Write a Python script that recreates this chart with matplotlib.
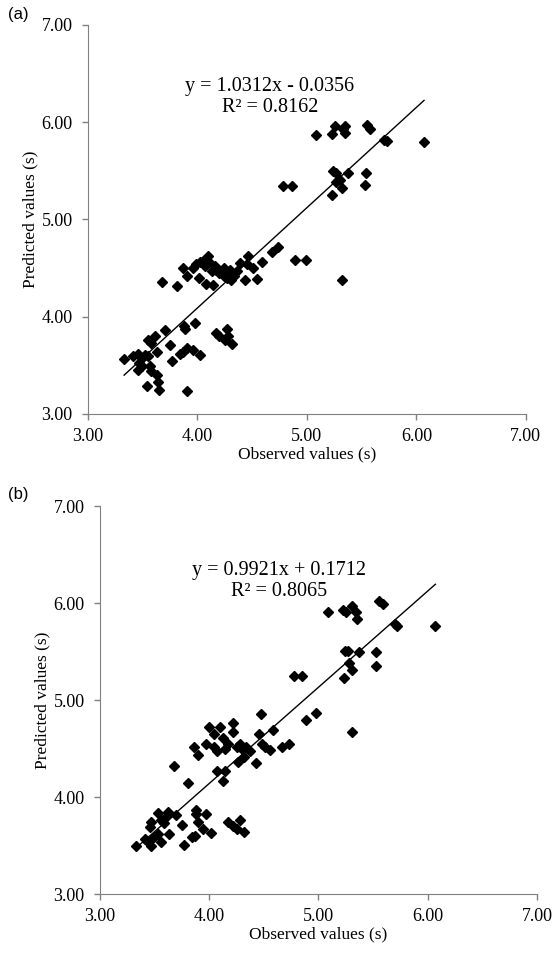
import numpy as np
import matplotlib.pyplot as plt

# panel (a) observed / predicted
obs_a = [4.10, 4.02, 3.99, 3.96, 4.07, 3.87, 3.90, 4.01, 3.68, 3.81, 4.08, 4.14,
         4.13, 4.17, 4.20, 4.24, 4.27, 4.30, 4.33, 4.36, 4.39, 4.46, 4.45, 4.51,
         4.43, 4.54, 4.59, 4.68, 4.74, 4.89, 4.99, 4.27, 4.31, 4.24, 4.16, 4.11, 4.05,
         3.33, 3.41, 3.46, 3.49, 3.52, 3.55, 3.47, 3.46, 3.49, 3.57, 3.58, 3.54,
         3.63, 3.64, 3.65, 3.55, 3.61, 3.70, 3.58, 3.75, 3.63, 3.84, 3.90, 3.87,
         3.96, 4.02, 3.77, 3.88, 3.89, 3.98, 4.17, 4.20, 4.27, 4.28, 4.25, 4.32, 3.90,
         5.08, 5.23, 5.26, 5.33, 5.35, 5.35, 5.55, 5.58, 5.70, 5.73, 6.07,
         5.24, 5.27, 5.38, 5.54, 5.30, 5.27, 5.32, 5.23, 5.53, 5.32, 4.78, 4.86]
pred_a = [4.62, 4.56, 4.54, 4.50, 4.52, 4.50, 4.42, 4.40, 4.36, 4.32, 4.34, 4.33,
          4.47, 4.48, 4.45, 4.50, 4.45, 4.48, 4.42, 4.47, 4.55, 4.62, 4.54, 4.50,
          4.38, 4.39, 4.56, 4.66, 4.72, 4.58, 4.58, 4.40, 4.38, 4.42, 4.52, 4.56, 4.57,
          3.56, 3.60, 3.62, 3.57, 3.61, 3.59, 3.52, 3.45, 3.49, 3.49, 3.44, 3.29,
          3.40, 3.33, 3.25, 3.76, 3.80, 3.86, 3.73, 3.71, 3.64, 3.62, 3.68, 3.64,
          3.66, 3.61, 3.54, 3.90, 3.87, 3.93, 3.83, 3.80, 3.87, 3.80, 3.76, 3.72, 3.23,
          5.87, 5.88, 5.96, 5.93, 5.96, 5.89, 5.97, 5.93, 5.82, 5.81, 5.80,
          5.50, 5.48, 5.48, 5.48, 5.40, 5.38, 5.32, 5.25, 5.35, 4.38, 5.34, 5.34]

# panel (b) observed / predicted
obs_b = [3.33, 3.41, 3.44, 3.47, 3.49, 3.53, 3.56, 3.46, 3.47, 3.53, 3.56, 3.61,
         3.62, 3.70, 3.59, 3.63, 3.75, 3.77, 3.84, 3.87, 3.88, 3.88, 3.90, 3.97,
         3.94, 4.02, 4.17, 4.22, 4.25, 4.28, 4.32, 3.81, 3.68, 3.86, 3.90, 3.97,
         4.00, 4.04, 4.10, 4.07, 4.04, 4.13, 4.17, 4.22, 4.22, 4.14, 4.25, 4.28,
         4.31, 4.34, 4.37, 4.32, 4.26, 4.07, 4.14, 4.13, 4.43, 4.48, 4.51, 4.56,
         4.46, 4.47, 4.58, 4.67, 4.73, 4.89, 4.98,
         5.09, 5.22, 5.25, 5.31, 5.34, 5.35, 5.55, 5.59, 5.70, 5.72, 6.07,
         5.24, 5.27, 5.37, 5.53, 5.28, 5.31, 5.23, 5.53, 4.78, 4.85, 5.31]
pred_b = [3.50, 3.57, 3.54, 3.50, 3.59, 3.62, 3.54, 3.69, 3.74, 3.83, 3.76, 3.80,
          3.85, 3.81, 3.73, 3.62, 3.71, 3.51, 3.59, 3.60, 3.87, 3.82, 3.74, 3.82,
          3.67, 3.63, 3.74, 3.70, 3.67, 3.76, 3.64, 4.14, 4.32, 4.52, 4.43, 4.55,
          4.72, 4.65, 4.72, 4.47, 4.52, 4.61, 4.55, 4.76, 4.67, 4.50, 4.52, 4.55,
          4.48, 4.52, 4.47, 4.41, 4.36, 4.27, 4.27, 4.17, 4.35, 4.55, 4.52, 4.48,
          4.65, 4.86, 4.69, 4.52, 4.55, 4.79, 4.87,
          5.91, 5.93, 5.91, 5.97, 5.91, 5.84, 6.02, 5.99, 5.78, 5.76, 5.76,
          5.51, 5.51, 5.50, 5.50, 5.38, 5.31, 5.23, 5.35, 5.25, 5.25, 4.67]

fits = [(1.0312, -0.0356, "y = 1.0312x - 0.0356", "R² = 0.8162"),
        (0.9921, 0.1712, "y = 0.9921x + 0.1712", "R² = 0.8065")]
ticks = [3.00, 4.00, 5.00, 6.00, 7.00]

serif = "Liberation Serif"
fig = plt.figure(figsize=(5.57, 9.58), dpi=100)
ax_a = fig.add_axes([0.158, 0.568, 0.786, 0.406])
ax_b = fig.add_axes([0.1795, 0.0668, 0.7846, 0.405])

panels = [(ax_a, obs_a, pred_a, fits[0], (4.66, 6.37, 6.15)),
          (ax_b, obs_b, pred_b, fits[1], (4.64, 6.34, 6.12))]

for ax, x, y, fit, tpos in panels:
    x = np.array(x)
    ax.plot(x, y, linestyle="none", marker="D", ms=5.5, color="black")
    xs = np.array([x.min(), x.max()])
    ax.plot(xs, fit[0] * xs + fit[1], color="black", lw=1)
    ax.set_xlim(3, 7)
    ax.set_ylim(3, 7)
    ax.set_xticks(ticks)
    ax.set_yticks(ticks)
    ax.set_xticklabels([f"{t:.2f}" for t in ticks], family=serif, fontsize=13)
    ax.set_yticklabels([f"{t:.2f}" for t in ticks], family=serif, fontsize=13)
    for s in ["top", "right"]:
        ax.spines[s].set_visible(False)
    for s in ["left", "bottom"]:
        ax.spines[s].set_color("#808080")
    ax.tick_params(direction="out", length=4, color="#808080", width=1)
    ax.tick_params(axis="x", pad=6)
    ax.tick_params(axis="y", pad=7)
    ax.set_xlabel("Observed values (s)", family=serif, fontsize=12.5, labelpad=1)
    ax.set_ylabel("Predicted values (s)", family=serif, fontsize=12.5, labelpad=2)
    ax.text(tpos[0], tpos[1], fit[2], family=serif, fontsize=14.5, ha="center", va="center")
    ax.text(tpos[0], tpos[2], fit[3], family=serif, fontsize=14.5, ha="center", va="center")

fig.text(8 / 557, 1 - 14 / 958, "(a)", family="Liberation Sans", fontsize=12, va="center")
fig.text(8 / 557, 1 - 495 / 958, "(b)", family="Liberation Sans", fontsize=12, va="center")

fig.savefig("out.png", dpi=100)
